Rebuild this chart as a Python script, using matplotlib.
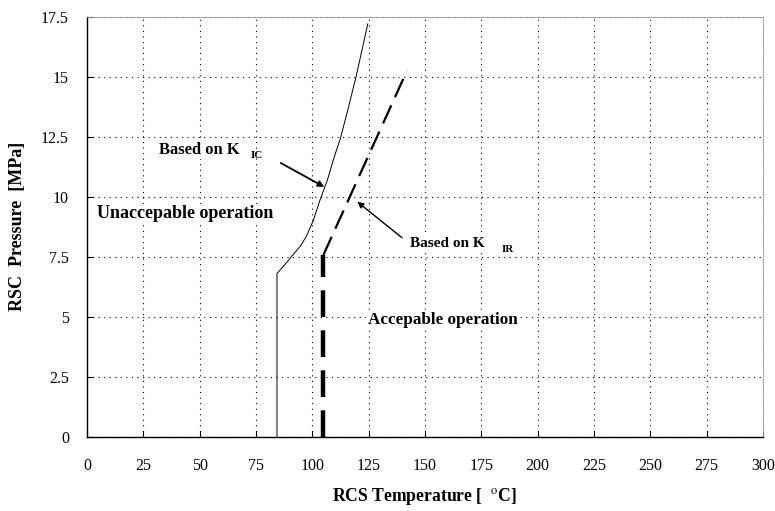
import matplotlib
matplotlib.use('Agg')
import matplotlib.pyplot as plt

plt.rcParams['font.family'] = ['Liberation Serif', 'DejaVu Serif']
plt.rcParams['mathtext.fontset'] = 'stix'

# K_IC curve (solid)
kic_T = [84.3, 84.3, 88.5, 92.3, 95.0, 97.6, 100.5, 103.4, 106.7, 109.3, 112.5, 115.7, 119.4, 122.0, 124.6]
kic_P = [0.0, 6.8, 7.25, 7.68, 7.98, 8.4, 9.03, 9.86, 10.7, 11.53, 12.45, 13.6, 15.0, 16.1, 17.2]

# K_IR curve (dashed): vertical part + rising part
kir_vT = [104.9, 104.9]
kir_vP = [0.0, 7.57]
kir_T = [104.9, 142.0]
kir_P = [7.57, 15.25]

xticks = list(range(0, 301, 25))
yticks = [0, 2.5, 5, 7.5, 10, 12.5, 15, 17.5]
ytick_labels = ['0', '2.5', '5', '7.5', '10', '12.5', '15', '17.5']

fig = plt.figure(figsize=(7.75, 5.11), dpi=100)
ax = fig.add_axes([0.1123, 0.1454, 0.8722, 0.8219])

ax.plot(kic_T, kic_P, color='black', lw=0.7, zorder=3)
ax.plot(kir_vT, kir_vP, color='black', lw=3.2, dashes=(6, 3), zorder=3)
ax.plot(kir_T, kir_P, color='black', lw=1.6, dashes=(9, 4), zorder=3)

ax.set_xlim(0, 300)
ax.set_ylim(0, 17.5)
ax.set_xticks(xticks)
ax.set_yticks(yticks)
ax.set_yticklabels(ytick_labels)
ax.tick_params(direction='in', length=4, width=0.8, labelsize=11.5)
ax.tick_params(axis='x', pad=15)
ax.tick_params(axis='y', pad=13)
ax.grid(True, color='black', linestyle=(0, (1, 4)), lw=0.8)

for s in ['top', 'right']:
    ax.spines[s].set_color('#999999')
    ax.spines[s].set_linewidth(0.6)
for s in ['left', 'bottom']:
    ax.spines[s].set_linewidth(1.0)

box = dict(facecolor='white', edgecolor='none', pad=1)
ax.text(32, 11.95, 'Based on K', fontsize=12, fontweight='bold', va='center', bbox=box, zorder=4)
ax.text(72.8, 11.7, 'IC', fontsize=8, fontweight='bold', va='center', zorder=4)
ax.annotate('', xy=(106.4, 10.35), xytext=(84.9, 11.46),
            arrowprops=dict(arrowstyle='-|>', color='black', lw=1.3, mutation_scale=9), zorder=4)

ax.text(143.5, 8.06, 'Based on K', fontsize=11, fontweight='bold', va='center', bbox=box, zorder=4)
ax.text(184.2, 7.8, 'IR', fontsize=8, fontweight='bold', va='center', zorder=4)
ax.annotate('', xy=(119, 9.86), xytext=(140.7, 8.22),
            arrowprops=dict(arrowstyle='-|>', color='black', lw=1.0, mutation_scale=9), zorder=4)

ax.text(4.4, 9.3, 'Unaccepable operation', fontsize=13, fontweight='bold', va='center', bbox=box, zorder=4)
ax.text(124.5, 4.86, 'Accepable operation', fontsize=12.3, fontweight='bold', va='center', bbox=box, zorder=4)

ax.set_xlabel('RCS Temperature [  $^{\\mathrm{o}}$C]', fontsize=12.7, fontweight='bold', labelpad=9)
ax.set_ylabel('RSC  Pressure  [MPa]', fontsize=13, fontweight='bold', labelpad=11)

fig.savefig('out.png', dpi=100)
